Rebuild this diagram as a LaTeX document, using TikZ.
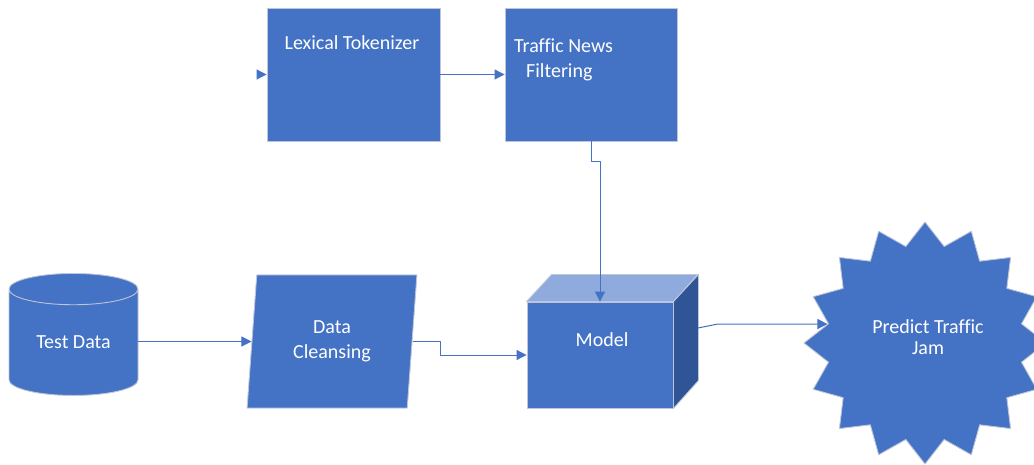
\documentclass[tikz,border=0pt]{standalone}
\usepackage{fontspec}
\setmainfont{Carlito}[Ligatures=NoCommon]
\usetikzlibrary{arrows.meta,shapes.geometric}
\definecolor{boxblue}{HTML}{4472C4}
\definecolor{boxtop}{HTML}{8FAADC}
\definecolor{boxside}{HTML}{2F5597}
\definecolor{rimgray}{HTML}{BCC6D8}
\tikzset{
  shapebox/.style={fill=boxblue, draw=rimgray, line width=0.9pt, inner sep=0pt},
  boxtext/.style={text=white, font=\fontsize{20}{24.5}\selectfont, align=center, inner sep=0pt},
  conn/.style={draw=boxblue, line width=1pt, -{Triangle[length=10pt,width=10pt]}},
}
\begin{document}
\begin{tikzpicture}[x=1pt, y=-1pt, line join=round]
\useasboundingbox (0,0) rectangle (1034,465);
% upper row
\node[shapebox, minimum width=173pt, minimum height=133pt] (tok) at (353.5,74.5) {};
\node[boxtext] (toktxt) at (352,43) {Lexical Tokenizer};
\node[shapebox, minimum width=172pt, minimum height=133pt] (filt) at (591,74.5) {};
\node[boxtext, align=left, anchor=west] (filttxt) at (514,60) {Traffic News\\\hspace*{12pt}Filtering};
\coordinate (tokin) at (257,74.5);
% lower row
\node[shapebox, boxtext, cylinder, shape border rotate=90, aspect=0.42,
      minimum width=129pt, minimum height=122pt] (test) at (73.5,342.5) {Test Data};
\node[shapebox, boxtext, trapezium, trapezium left angle=83, trapezium right angle=97,
      trapezium stretches=true, minimum width=170pt, minimum height=133pt] (clean) at (332,341.5) {Data\\Cleansing};
% cube
\node[shapebox, minimum width=146pt, minimum height=106pt] (model) at (600,355) {};
\filldraw[fill=boxtop, draw=rimgray, line width=0.9pt] (model.north west) -- ++(25,-27) -- ++(146,0) -- (model.north east) -- cycle;
\filldraw[fill=boxside, draw=rimgray, line width=0.9pt] (model.north east) -- ++(25,-27) -- ++(0,106) -- (model.south east) -- cycle;
\node[boxtext] (modeltxt) at (602,340) {Model};
\coordinate (mdlout) at (698,328);
% star
\node[shapebox, star, star points=16, star point ratio=1.23, minimum size=242pt] (jam) at (925,343) {};
\node[boxtext, font=\fontsize{20}{21.6}\selectfont] (jamtxt) at (928,337) {Predict Traffic\\Jam};
% connectors
\draw[conn] (tokin) -- (tok);
\draw[conn] (tok) -- (filt);
\draw[conn] (filt.south) -- ++(0,20) -| (model.north);
\draw[conn] (test.east |- clean.west) -- (clean.west);
\draw[conn] (clean.east) -- ++(28,0) |- (model.west);
\draw[conn] (mdlout) -- ++(20,-4) -- (jam.169);
\end{tikzpicture}
\end{document}
